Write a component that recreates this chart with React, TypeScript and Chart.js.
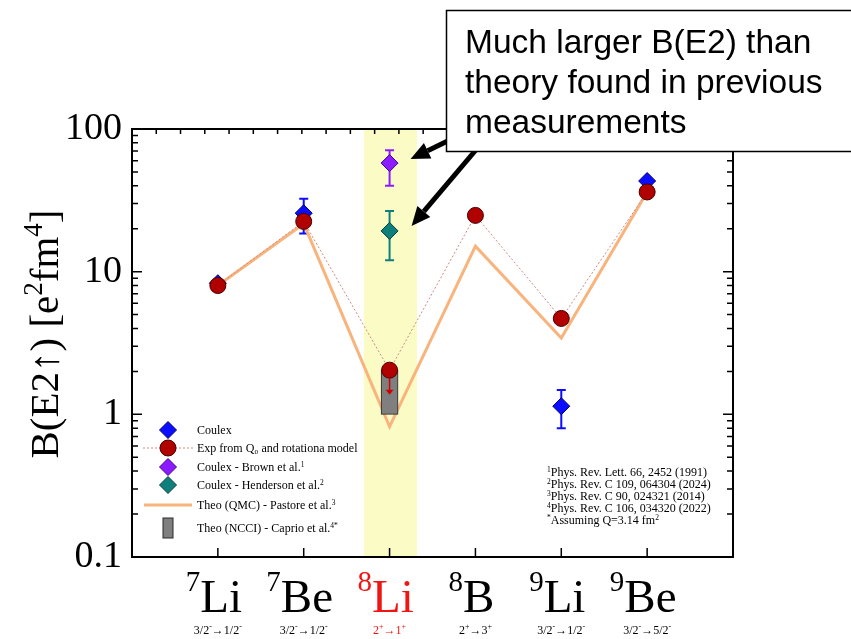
import React, { useEffect, useRef } from 'react';
import { Chart, registerables } from 'chart.js';

Chart.register(...registerables);

const SERIF = '"Liberation Serif", "Times New Roman", serif';
const SANS = '"Liberation Sans", Arial, sans-serif';

// ---------- categories ----------
const xPositions = [1, 2, 3, 4, 5, 6];
const massNumbers = ['7', '7', '8', '8', '9', '9'];
const isotopeSymbols = ['Li', 'Be', 'Li', 'B', 'Li', 'Be'];
const transInitial = ['3/2', '3/2', '2', '2', '3/2', '3/2'];
const transInitialParity = ['-', '-', '+', '+', '-', '-'];
const transFinal = ['1/2', '1/2', '1', '3', '1/2', '5/2'];
const transFinalParity = ['-', '-', '+', '+', '-', '-'];
const highlightIndex = 2;
const highlightRange = [2.7, 3.32];

// ---------- series ----------
const coulexValues = [8.3, 25.7, null, null, 1.14, 43.2];
const coulexLow = [null, 18.5, null, null, 0.8, null];
const coulexHigh = [null, 32.5, null, null, 1.48, null];

const expQ0Values = [8.0, 22.5, 2.04, 24.8, 4.7, 36.2];
const expQ0UpperLimitTip = 1.37; // 8Li upper-limit arrow end

const brownX = [3];
const brownValues = [57.7];
const brownLow = [40];
const brownHigh = [71];

const hendersonX = [3];
const hendersonValues = [19.3];
const hendersonLow = [12.0];
const hendersonHigh = [26.6];

const theoQMCValues = [8.0, 21.7, 0.82, 15.1, 3.43, 36.2];

const ncciX = [3];
const ncciRange = [1.0, 2.05];

// ---------- ticks ----------
const yTicks = [0.1, 1, 10, 100];
const topTickStep = 0.2826;

// ---------- legend / notes text ----------
const legendLabels = [
  'Coulex',
  'Exp from Q\u2080 and rotationa model',
  'Coulex - Brown et al.',
  'Coulex - Henderson et al.',
  'Theo (QMC) - Pastore et al.',
  'Theo (NCCI) - Caprio et al.',
];
const legendSups = ['', '', '1', '2', '3', '4*'];
const refSups = ['1', '2', '3', '4'];
const refTexts = [
  'Phys. Rev. Lett. 66, 2452 (1991)',
  'Phys. Rev. C 109, 064304 (2024)',
  'Phys. Rev. C 90, 024321 (2014)',
  'Phys. Rev. C 106, 034320 (2022)',
];
const calloutLines = ['Much larger B(E2) than', 'theory found in previous', 'measurements'];

const COL = {
  blue: '#0c0cff',
  blueEdge: '#00006e',
  red: '#b00000',
  redEdge: '#4a0000',
  redLine: '#d08a8a',
  purple: '#8a1cff',
  purpleEdge: '#4a0090',
  teal: '#0f7f7b',
  tealEdge: '#064040',
  orange: '#f8b47c',
  gray: '#7f7f7f',
  grayEdge: '#2a2a2a',
  band: '#fbfbc6',
  labelRed: '#f01414',
};

type Run = { t: string; size: number; dy?: number; color?: string };

function drawRuns(
  ctx: CanvasRenderingContext2D,
  runs: Run[],
  x: number,
  y: number,
  align: 'left' | 'center' | 'right',
  family: string,
  color: string
) {
  ctx.textAlign = 'left';
  ctx.textBaseline = 'alphabetic';
  const widths = runs.map((r) => {
    ctx.font = `${r.size}px ${family}`;
    return ctx.measureText(r.t).width;
  });
  const total = widths.reduce((a, b) => a + b, 0);
  let cx = align === 'left' ? x : align === 'center' ? x - total / 2 : x - total;
  runs.forEach((r, i) => {
    ctx.font = `${r.size}px ${family}`;
    ctx.fillStyle = r.color || color;
    ctx.fillText(r.t, cx, y + (r.dy || 0));
    cx += widths[i];
  });
}

function diamond(ctx: CanvasRenderingContext2D, x: number, y: number, r: number, fill: string, edge: string) {
  ctx.beginPath();
  ctx.moveTo(x, y - r);
  ctx.lineTo(x + r, y);
  ctx.lineTo(x, y + r);
  ctx.lineTo(x - r, y);
  ctx.closePath();
  ctx.fillStyle = fill;
  ctx.fill();
  ctx.lineWidth = 1;
  ctx.strokeStyle = edge;
  ctx.stroke();
}

function arrow(ctx: CanvasRenderingContext2D, x0: number, y0: number, x1: number, y1: number, lw: number, hl: number, hw: number, color: string) {
  const ang = Math.atan2(y1 - y0, x1 - x0);
  const bx = x1 - hl * Math.cos(ang);
  const by = y1 - hl * Math.sin(ang);
  ctx.strokeStyle = color;
  ctx.fillStyle = color;
  ctx.lineWidth = lw;
  ctx.lineCap = 'butt';
  ctx.beginPath();
  ctx.moveTo(x0, y0);
  ctx.lineTo(bx, by);
  ctx.stroke();
  ctx.beginPath();
  ctx.moveTo(x1, y1);
  ctx.lineTo(bx + (hw / 2) * Math.sin(ang), by - (hw / 2) * Math.cos(ang));
  ctx.lineTo(bx - (hw / 2) * Math.sin(ang), by + (hw / 2) * Math.cos(ang));
  ctx.closePath();
  ctx.fill();
}

function errorBar(ctx: CanvasRenderingContext2D, xs: any, ys: any, x: number, lo: number, hi: number, color: string) {
  const px = xs.getPixelForValue(x);
  const p0 = ys.getPixelForValue(lo);
  const p1 = ys.getPixelForValue(hi);
  ctx.strokeStyle = color;
  ctx.lineWidth = 2;
  ctx.beginPath();
  ctx.moveTo(px, p0);
  ctx.lineTo(px, p1);
  ctx.moveTo(px - 4.5, p0);
  ctx.lineTo(px + 4.5, p0);
  ctx.moveTo(px - 4.5, p1);
  ctx.lineTo(px + 4.5, p1);
  ctx.stroke();
}

const customPlugin = {
  id: 'customDecor',
  beforeDraw(chart: any) {
    const ctx = chart.ctx;
    ctx.save();
    ctx.fillStyle = '#ffffff';
    ctx.fillRect(0, 0, chart.width, chart.height);
    ctx.restore();
  },
  beforeDatasetsDraw(chart: any) {
    const { ctx, chartArea: ca } = chart;
    const xs = chart.scales.x;
    const ys = chart.scales.y;
    ctx.save();
    // highlight band
    const b0 = xs.getPixelForValue(highlightRange[0]);
    const b1 = xs.getPixelForValue(highlightRange[1]);
    ctx.fillStyle = COL.band;
    ctx.fillRect(b0, ca.top, b1 - b0, ca.bottom - ca.top);
    // error bars
    xPositions.forEach((x, i) => {
      if (coulexLow[i] != null && coulexHigh[i] != null) {
        errorBar(ctx, xs, ys, x, coulexLow[i] as number, coulexHigh[i] as number, COL.blue);
      }
    });
    brownX.forEach((x, i) => errorBar(ctx, xs, ys, x, brownLow[i], brownHigh[i], COL.purple));
    hendersonX.forEach((x, i) => errorBar(ctx, xs, ys, x, hendersonLow[i], hendersonHigh[i], COL.teal));
    ctx.restore();
  },
  afterDatasetsDraw(chart: any) {
    const { ctx, chartArea: ca } = chart;
    const xs = chart.scales.x;
    const ys = chart.scales.y;
    ctx.save();
    // upper-limit arrow for 8Li
    {
      const px = xs.getPixelForValue(xPositions[highlightIndex]);
      const py0 = ys.getPixelForValue(expQ0Values[highlightIndex]) + 8;
      const py1 = ys.getPixelForValue(expQ0UpperLimitTip);
      ctx.strokeStyle = '#d00000';
      ctx.fillStyle = '#d00000';
      ctx.lineWidth = 1.5;
      ctx.beginPath();
      ctx.moveTo(px, py0);
      ctx.lineTo(px, py1 - 4);
      ctx.stroke();
      ctx.beginPath();
      ctx.moveTo(px, py1);
      ctx.lineTo(px - 4, py1 - 5);
      ctx.lineTo(px + 4, py1 - 5);
      ctx.closePath();
      ctx.fill();
    }
    // frame
    ctx.strokeStyle = '#000';
    ctx.lineWidth = 2;
    ctx.strokeRect(ca.left, ca.top, ca.right - ca.left, ca.bottom - ca.top);
    // y ticks (inward) left and right
    ctx.lineWidth = 1.5;
    ctx.beginPath();
    const decades = [0.1, 1, 10];
    decades.forEach((d) => {
      for (let m = 1; m <= 9; m++) {
        const v = d * m;
        const py = ys.getPixelForValue(v);
        const len = m === 1 ? 10 : 6;
        ctx.moveTo(ca.left, py);
        ctx.lineTo(ca.left + len, py);
        ctx.moveTo(ca.right, py);
        ctx.lineTo(ca.right - len, py);
      }
    });
    // top ticks
    for (let t = topTickStep; t < xs.max - 0.05; t += topTickStep) {
      const px = xs.getPixelForValue(t);
      ctx.moveTo(px, ca.top);
      ctx.lineTo(px, ca.top + 5);
    }
    // bottom ticks at categories
    xPositions.forEach((x) => {
      const px = xs.getPixelForValue(x);
      ctx.moveTo(px, ca.bottom);
      ctx.lineTo(px, ca.bottom - 9);
    });
    ctx.stroke();
    ctx.restore();
  },
  afterDraw(chart: any) {
    const { ctx } = chart;
    const xs = chart.scales.x;
    ctx.save();

    // x category labels
    xPositions.forEach((x, i) => {
      const px = xs.getPixelForValue(x);
      const color = i === highlightIndex ? COL.labelRed : '#000';
      drawRuns(
        ctx,
        [
          { t: massNumbers[i], size: 29, dy: -21 },
          { t: isotopeSymbols[i], size: 47 },
        ],
        px - 4,
        612,
        'center',
        SERIF,
        color
      );
      drawRuns(
        ctx,
        [
          { t: transInitial[i], size: 12 },
          { t: transInitialParity[i], size: 8, dy: -5 },
          { t: '\u2192', size: 12 },
          { t: transFinal[i], size: 12 },
          { t: transFinalParity[i], size: 8, dy: -5 },
        ],
        px,
        634,
        'center',
        SERIF,
        color
      );
    });

    // y axis title
    ctx.save();
    ctx.translate(58, 334);
    ctx.rotate(-Math.PI / 2);
    drawRuns(
      ctx,
      [
        { t: 'B(E2\u2191) [e', size: 41 },
        { t: '2', size: 27, dy: -16 },
        { t: 'fm', size: 41 },
        { t: '4', size: 27, dy: -16 },
        { t: ']', size: 41 },
      ],
      0,
      0,
      'center',
      SERIF,
      '#000'
    );
    ctx.restore();

    // legend
    const lx = 168;
    const tx = 197;
    const rows = [430, 448, 467, 485, 505, 528];
    diamond(ctx, lx, rows[0], 8.5, COL.blue, COL.blueEdge);
    ctx.strokeStyle = COL.redLine;
    ctx.lineWidth = 1;
    ctx.setLineDash([2, 2]);
    ctx.beginPath();
    ctx.moveTo(143, rows[1]);
    ctx.lineTo(193, rows[1]);
    ctx.stroke();
    ctx.setLineDash([]);
    ctx.beginPath();
    ctx.arc(lx, rows[1], 8, 0, Math.PI * 2);
    ctx.fillStyle = COL.red;
    ctx.fill();
    ctx.strokeStyle = COL.redEdge;
    ctx.stroke();
    diamond(ctx, lx, rows[2], 8.5, COL.purple, COL.purpleEdge);
    diamond(ctx, lx, rows[3], 8.5, COL.teal, COL.tealEdge);
    ctx.strokeStyle = COL.orange;
    ctx.lineWidth = 3;
    ctx.beginPath();
    ctx.moveTo(144, rows[4]);
    ctx.lineTo(192, rows[4]);
    ctx.stroke();
    ctx.fillStyle = COL.gray;
    ctx.fillRect(163, rows[5] - 10, 10, 20);
    ctx.strokeStyle = COL.grayEdge;
    ctx.lineWidth = 1;
    ctx.strokeRect(163, rows[5] - 10, 10, 20);
    legendLabels.forEach((lab, i) => {
      const runs: Run[] = [{ t: lab, size: 12 }];
      if (legendSups[i]) runs.push({ t: legendSups[i], size: 7.5, dy: -4.5 });
      drawRuns(ctx, runs, tx, rows[i] + 4, 'left', SERIF, '#000');
    });

    // references
    const refRows = [476, 488, 500, 512];
    refTexts.forEach((t, i) => {
      drawRuns(ctx, [{ t: refSups[i], size: 7.5, dy: -4.5 }, { t, size: 12 }], 547, refRows[i], 'left', SERIF, '#000');
    });
    drawRuns(
      ctx,
      [
        { t: '*', size: 7.5, dy: -4.5 },
        { t: 'Assuming Q=3.14 fm', size: 12 },
        { t: '2', size: 7.5, dy: -4.5 },
      ],
      547,
      524,
      'left',
      SERIF,
      '#000'
    );

    // callout arrows
    const ys = chart.scales.y;
    const p8 = xs.getPixelForValue(xPositions[highlightIndex]);
    arrow(ctx, 462, 134, p8 + 21, ys.getPixelForValue(brownValues[0]) - 4, 5, 19, 17, '#000');
    arrow(ctx, 486, 138, p8 + 22, ys.getPixelForValue(hendersonValues[0]) - 5, 5, 19, 17, '#000');
    // callout box
    ctx.fillStyle = '#fff';
    ctx.fillRect(446, 10, 420, 142);
    ctx.strokeStyle = '#000';
    ctx.lineWidth = 1.5;
    ctx.strokeRect(446.5, 10.5, 420, 141);
    const cl = [53, 93, 133];
    calloutLines.forEach((t, i) => {
      drawRuns(ctx, [{ t, size: 33.5 }], 465, cl[i], 'left', SANS, '#000');
    });

    ctx.restore();
  },
};

export default function App() {
  const canvasRef = useRef<HTMLCanvasElement | null>(null);

  useEffect(() => {
    const canvas = canvasRef.current;
    if (!canvas) return;
    const chart = new Chart(canvas, {
      type: 'scatter',
      data: {
        datasets: [
          {
            type: 'line',
            label: 'Exp from Q0 and rotationa model',
            data: xPositions.map((x, i) => ({ x, y: expQ0Values[i] })),
            borderColor: COL.redLine,
            borderWidth: 1,
            borderDash: [2, 2],
            pointStyle: 'circle',
            pointRadius: 8,
            pointBackgroundColor: COL.red,
            pointBorderColor: COL.redEdge,
            pointBorderWidth: 1,
            fill: false,
            tension: 0,
            order: 1,
          } as any,
          {
            type: 'scatter',
            label: 'Coulex',
            data: xPositions
              .map((x, i) => ({ x, y: coulexValues[i] }))
              .filter((p) => p.y != null),
            pointStyle: 'rectRot',
            pointRadius: 8.5,
            backgroundColor: COL.blue,
            borderColor: COL.blueEdge,
            borderWidth: 1,
            order: 2,
          } as any,
          {
            type: 'scatter',
            label: 'Coulex - Brown et al.',
            data: brownX.map((x, i) => ({ x, y: brownValues[i] })),
            pointStyle: 'rectRot',
            pointRadius: 8.5,
            backgroundColor: COL.purple,
            borderColor: COL.purpleEdge,
            borderWidth: 1,
            order: 2,
          } as any,
          {
            type: 'scatter',
            label: 'Coulex - Henderson et al.',
            data: hendersonX.map((x, i) => ({ x, y: hendersonValues[i] })),
            pointStyle: 'rectRot',
            pointRadius: 8.5,
            backgroundColor: COL.teal,
            borderColor: COL.tealEdge,
            borderWidth: 1,
            order: 2,
          } as any,
          {
            type: 'bar',
            label: 'Theo (NCCI) - Caprio et al.',
            data: ncciX.map((x) => ({ x, y: ncciRange })),
            backgroundColor: COL.gray,
            borderColor: COL.grayEdge,
            borderWidth: 1,
            borderSkipped: false,
            barThickness: 17,
            order: 5,
          } as any,
          {
            type: 'line',
            label: 'Theo (QMC) - Pastore et al.',
            data: xPositions.map((x, i) => ({ x, y: theoQMCValues[i] })),
            borderColor: COL.orange,
            borderWidth: 3,
            pointRadius: 0,
            fill: false,
            tension: 0,
            order: 10,
          } as any,
        ],
      },
      options: {
        responsive: false,
        devicePixelRatio: 1,
        animation: false,
        events: [],
        layout: { padding: { top: 129, right: 118, bottom: 82, left: 0 } },
        plugins: {
          legend: { display: false },
          tooltip: { enabled: false },
        },
        scales: {
          x: {
            type: 'linear',
            min: 0,
            max: 7,
            offset: false,
            display: false,
          },
          y: {
            type: 'logarithmic',
            position: 'left',
            min: 0.1,
            max: 100,
            grid: { display: false },
            border: { display: false },
            afterBuildTicks: (s: any) => {
              s.ticks = yTicks.map((v) => ({ value: v }));
            },
            afterFit: (s: any) => {
              s.width = 132;
            },
            ticks: {
              autoSkip: false,
              padding: 2,
              color: '#000',
              font: { family: SERIF, size: 38 },
              callback: (v: any) => String(v),
            },
          },
        },
      } as any,
      plugins: [customPlugin],
    });
    return () => chart.destroy();
  }, []);

  return (
    <div style={{ position: 'absolute', left: 0, top: 0, width: 851, height: 639, background: '#fff' }}>
      <canvas ref={canvasRef} width={851} height={639} style={{ display: 'block' }} />
    </div>
  );
}
